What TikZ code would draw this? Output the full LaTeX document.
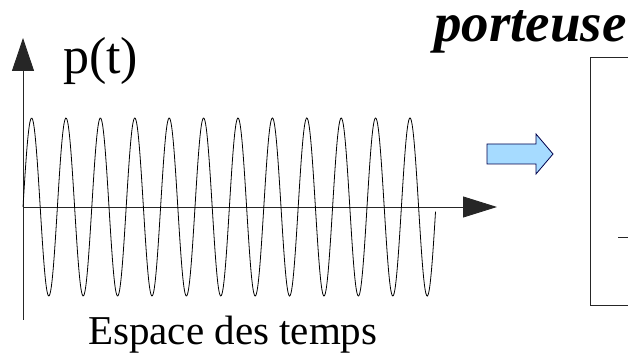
\documentclass[tikz,border=0pt]{standalone}
\usepackage{fontspec}
\setmainfont{Liberation Serif}
\usetikzlibrary{arrows.meta}

\begin{document}
\begin{tikzpicture}[x=1pt,y=1pt,
    axe/.style={line width=0.9pt,black!85},
    onde/.style={line width=0.8pt,black},
    fleche/.style={draw=black!70!blue,line width=0.8pt,fill=blue!40!cyan!35},
    lbl/.style={inner sep=0pt,anchor=base west}]
  \useasboundingbox (0,0) rectangle (628,358);
  % period 34.4, amplitude 89, 12 periods
  \pgfmathsetmacro{\per}{34.4}
  \pgfmathsetmacro{\amp}{89}
  % axes
  \draw[axe,-{Triangle[length=33pt,width=22pt]}] (23,38) -- (23,320);
  \draw[axe,-{Triangle[length=34pt,width=21pt]}] (23,151) -- (497,151);
  % carrier
  \draw[onde] plot[domain=0:12,samples=600,smooth]
     ({23+\per*\x},{151+\amp*sin(360*\x)});
  % labels
  \node[lbl,font=\fontsize{52}{60}\selectfont] (pt) at (63,284) {p(t)};
  \node[lbl,font=\fontsize{41}{48}\selectfont] (esp) at (88,13) {Espace des temps};
  \node[lbl,font=\fontsize{55}{62}\selectfont\bfseries\itshape] (port) at (434,316) {porteuse};
  % block arrow
  \draw[fleche] (487,194) -- (536,194) -- (536,184) -- (553,204)
     -- (536,224) -- (536,214) -- (487,214) -- cycle;
  % next frame
  \draw[axe] (628,301) -- (590,301) -- (590,53) -- (628,53);
  \draw[axe] (618,121) -- (628,121);
\end{tikzpicture}
\end{document}
